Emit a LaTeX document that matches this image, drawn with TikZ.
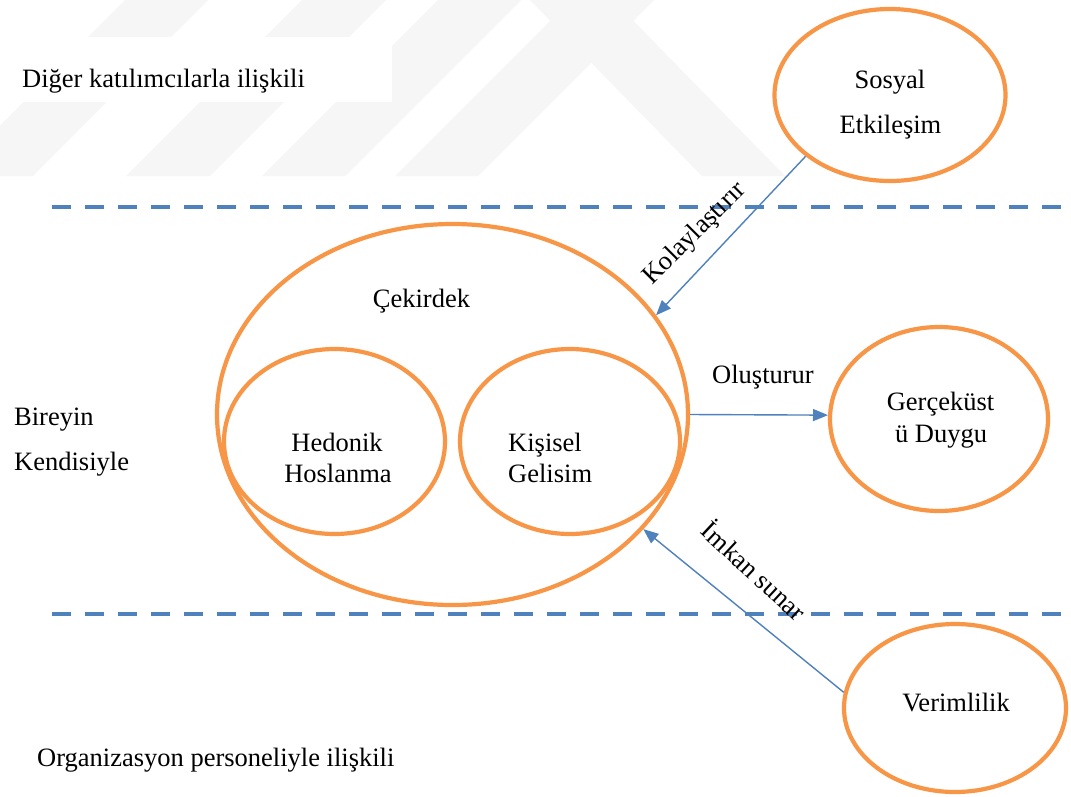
\documentclass[tikz,border=0pt]{standalone}
\usepackage{fontspec}
\setmainfont{Liberation Serif}
\usetikzlibrary{shapes.geometric,arrows.meta}
\definecolor{ringorange}{HTML}{F79646}
\definecolor{linkblue}{HTML}{4F81BD}
\definecolor{markgray}{RGB}{246,246,246}

\begin{document}
\begin{tikzpicture}[x=1pt,y=-1pt,
  ring/.style={ellipse, draw=ringorange, line width=4.2pt, inner sep=0pt},
  lbl/.style={font=\fontsize{26.5}{30}\selectfont, inner sep=0pt, anchor=base},
  link/.style={draw=linkblue, line width=1.4pt, -{Triangle[length=15pt,width=12pt]}},
  divider/.style={draw=linkblue, line width=4.2pt, dash pattern=on 19pt off 14pt}]

  % page frame
  \useasboundingbox (0,0) rectangle (1071,796);
  \fill[white] (0,0) rectangle (1071,796);

  % faint background stripes
  \fill[markgray] (-50,176) -- (33,176) -- (208,0) -- (125,0) -- cycle;
  \fill[markgray] (126,176) -- (210,176) -- (386,0) -- (302,0) -- cycle;
  \fill[markgray] (262,176) -- (345,176) -- (521,0) -- (438,0) -- cycle;
  \fill[markgray] (395,176) -- (478,176) -- (654,0) -- (571,0) -- cycle;
  \fill[markgray] (530,0) -- (613,0) -- (785,176) -- (702,176) -- cycle;
  \fill[white] (0,37) rectangle (392,102);

  % zone dividers
  \draw[divider] (52,207) -- (1071,207);
  \draw[divider] (52,614) -- (1071,614);

  % zone captions
  \node[lbl, anchor=base west] (zoneOther) at (22,87) {Diğer katılımcılarla ilişkili};
  \node[lbl, anchor=base west] (zoneSelfA) at (14,425) {Bireyin};
  \node[lbl, anchor=base west] (zoneSelfB) at (14,470) {Kendisiyle};
  \node[lbl, anchor=base west] (zoneStaff) at (37,766) {Organizasyon personeliyle ilişkili};

  % ellipses
  \node[ring, fill=white, minimum width=231pt, minimum height=172pt] (sosyal) at (890,95) {};
  \node[ring, minimum width=471pt, minimum height=381pt] (core) at (452.5,414.5) {};
  \node[ring, minimum width=221pt, minimum height=185pt] (hedonik) at (334.5,441.5) {};
  \node[ring, minimum width=220pt, minimum height=185pt] (kisisel) at (570,441.5) {};
  \node[ring, minimum width=218pt, minimum height=184pt] (duygu) at (939,419) {};
  \node[ring, minimum width=222pt, minimum height=168pt] (verim) at (955,708) {};

  % ellipse texts
  \node[lbl] (sosyalA) at (890,88) {Sosyal};
  \node[lbl] (sosyalB) at (890.5,133) {Etkileşim};
  \node[lbl] (coreT) at (421.5,307) {Çekirdek};
  \node[lbl] (hedA) at (337,451.5) {Hedonik};
  \node[lbl] (hedB) at (338,482) {Hoslanma};
  \node[lbl, anchor=base west] (kisA) at (508,451.5) {Kişisel};
  \node[lbl, anchor=base west] (kisB) at (508,482) {Gelisim};
  \node[lbl] (duyA) at (940.5,410) {Gerçeküst};
  \node[lbl] (duyB) at (941,442) {ü Duygu};
  \node[lbl] (verimT) at (956,711) {Verimlilik};

  % connectors
  \draw[link] (sosyal.216) -- (core.26.3);
  \draw[link] (core.0.4) -- (duygu.178);
  \draw[link] (verim.172.4) -- (core.329.7);

  % connector labels
  \node[lbl, anchor=center, rotate=45] (kolT) at (695,234) {Kolaylaştırır};
  \node[lbl] (olusT) at (763,383) {Oluşturur};
  \node[lbl, anchor=center, rotate=-43] (imkT) at (755,570) {İmkan sunar};
\end{tikzpicture}
\end{document}
